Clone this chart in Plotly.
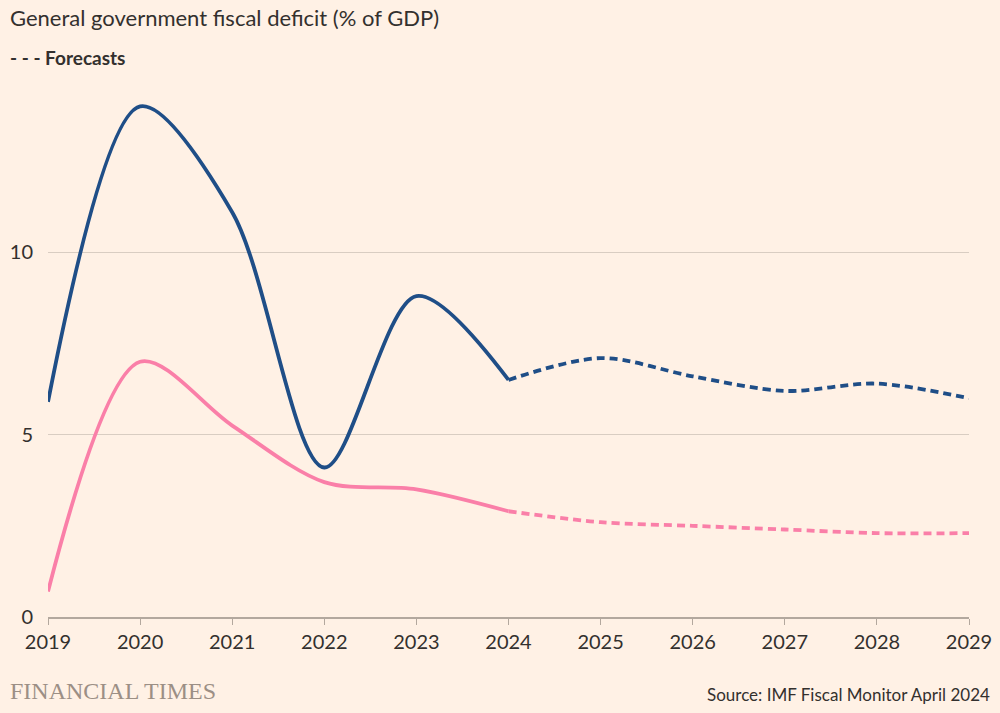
import plotly.graph_objects as go

years_hist = [2019, 2020, 2021, 2022, 2023, 2024]
years_fcst = [2024, 2025, 2026, 2027, 2028, 2029]

blue_hist = [5.9, 14.0, 11.1, 4.1, 8.8, 6.5]
blue_fcst = [6.5, 7.1, 6.6, 6.2, 6.4, 6.0]
pink_hist = [0.7, 7.0, 5.25, 3.7, 3.5, 2.9]
pink_fcst = [2.9, 2.6, 2.5, 2.4, 2.3, 2.3]

x_ticks = list(range(2019, 2030))
y_ticks = [0, 5, 10]

BG = "#fff1e5"
BLUE = "#1f4e87"
PINK = "#fa7fa8"
TEXT = "#33302e"
GRID = "#d9cdc2"
AXIS = "#b3a89e"
FONT = "Lato, 'Open Sans', sans-serif"

fig = go.Figure()
lw = 3.8
fig.add_trace(go.Scatter(x=years_hist, y=pink_hist, mode="lines",
                         line=dict(color=PINK, width=lw, shape="spline", smoothing=0.9),
                         hoverinfo="skip", showlegend=False))
fig.add_trace(go.Scatter(x=years_fcst, y=pink_fcst, mode="lines",
                         line=dict(color=PINK, width=lw, shape="spline", smoothing=0.9, dash="8px,5px"),
                         hoverinfo="skip", showlegend=False))
fig.add_trace(go.Scatter(x=years_hist, y=blue_hist, mode="lines",
                         line=dict(color=BLUE, width=lw, shape="spline", smoothing=0.9),
                         hoverinfo="skip", showlegend=False))
fig.add_trace(go.Scatter(x=years_fcst, y=blue_fcst, mode="lines",
                         line=dict(color=BLUE, width=lw, shape="spline", smoothing=0.9, dash="8px,5px"),
                         hoverinfo="skip", showlegend=False))

fig.update_layout(
    width=1000, height=713,
    paper_bgcolor=BG, plot_bgcolor=BG,
    margin=dict(l=48, r=31, t=70, b=96, autoexpand=False),
    font=dict(family=FONT, color=TEXT, size=20),
    xaxis=dict(range=[2019, 2029], tickvals=x_ticks, ticktext=[str(v) for v in x_ticks],
               showgrid=False, zeroline=False, showline=True, linecolor=AXIS, linewidth=1.5,
               ticks="outside", ticklen=6, tickcolor=AXIS, tickwidth=1.2, automargin=False,
               tickfont=dict(size=20, color=TEXT), fixedrange=True),
    yaxis=dict(range=[0, 15], tickvals=y_ticks, showgrid=True, gridcolor=GRID, gridwidth=1,
               zeroline=False, showline=False, ticks="", ticklabelstandoff=14, automargin=False,
               tickfont=dict(size=20, color=TEXT), fixedrange=True),
    annotations=[
        dict(text="General government fiscal deficit (% of GDP)", xref="paper", yref="paper",
             x=-40/921, y=1 + (70-17)/547, xanchor="left", yanchor="middle", showarrow=False,
             font=dict(size=22, color=TEXT, family=FONT)),
        dict(text="<b>- - - Forecasts</b>", xref="paper", yref="paper",
             x=-40/921, y=1 + (70-58)/547, xanchor="left", yanchor="middle", showarrow=False,
             font=dict(size=19, color=TEXT, family=FONT)),
        dict(text="FINANCIAL TIMES", xref="paper", yref="paper",
             x=-40/921, y=-(691-617)/547, xanchor="left", yanchor="middle", showarrow=False,
             font=dict(size=24, color="#9c8f85", family="'Liberation Serif', 'DejaVu Serif', serif")),
        dict(text="Source: IMF Fiscal Monitor April 2024", xref="paper", yref="paper",
             x=(992-48)/921, y=-(694-617)/547, xanchor="right", yanchor="middle", showarrow=False,
             font=dict(size=17, color=TEXT, family=FONT)),
    ],
)

fig.write_html("out.html", config={"displayModeBar": False},
               post_script="document.body.style.margin='0';document.body.style.overflow='hidden';document.body.style.background='#fff1e5';")
